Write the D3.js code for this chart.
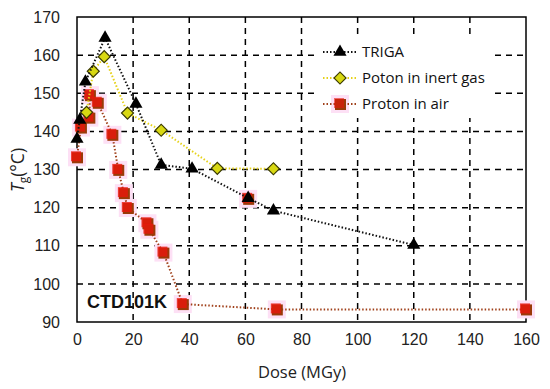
<!DOCTYPE html>
<html><head><meta charset="utf-8">
<script src="https://cdnjs.cloudflare.com/ajax/libs/d3/7.8.5/d3.min.js"></script>
<style>body{margin:0;background:#fff}svg{display:block}</style>
</head><body>
<script>
const xTicks = [0,20,40,60,80,100,120,140,160];
const yTicks = [90,100,110,120,130,140,150,160,170];
const trigaDose = [0,1,3,10,21,30,41,61,70,120];
const trigaTg   = [138,143,153,164.5,147.2,131.2,130.2,122.5,119.2,110.2];
const inertDose = [3.4,5.8,9.7,18,30,50,70];
const inertTg   = [145,155.8,159.6,144.8,140.3,130.3,130.2];
const airDose = [0,1.4,4.4,4.6,7.4,12.6,14.7,16.7,18.1,25.1,25.8,30.8,37.7,71.2,160];
const airTg   = [133.2,141,143.6,149.5,147.5,139.1,129.9,123.8,119.9,115.9,114.2,108.2,94.7,93.3,93.3];
const airExtraDose = [61];
const airExtraTg = [122.3];
const seriesNames = ["TRIGA","Poton in inert gas","Proton in air"];

const W=550,H=389;
const svg=d3.select("body").append("svg").attr("width",W).attr("height",H);
const x=d3.scaleLinear().domain([0,160]).range([77,526]);
const y=d3.scaleLinear().domain([90,170]).range([322,17]);
const font="Liberation Sans, Arial, sans-serif";

// grid
const g=svg.append("g");
g.selectAll(".vg").data(xTicks.filter(d=>d>0&&d<160)).enter().append("line")
 .attr("x1",d=>x(d)).attr("x2",d=>x(d)).attr("y1",y(170)).attr("y2",y(90))
 .attr("stroke","#000").attr("stroke-width",1.5).attr("stroke-dasharray","6,5");
g.selectAll(".hg").data(yTicks.filter(d=>d>90&&d<170)).enter().append("line")
 .attr("y1",d=>y(d)).attr("y2",d=>y(d)).attr("x1",x(0)).attr("x2",x(160))
 .attr("stroke","#000").attr("stroke-width",1.5).attr("stroke-dasharray","6,5");

// legend background
svg.append("rect").attr("x",317).attr("y",36).attr("width",178).attr("height",82).attr("fill","#fff");

// frame
svg.append("rect").attr("x",x(0)).attr("y",y(170)).attr("width",x(160)-x(0)).attr("height",y(90)-y(170))
 .attr("fill","none").attr("stroke","#000").attr("stroke-width",1.5);

// axes labels
const xAxis=d3.axisBottom(x).tickValues(xTicks).tickSize(0).tickPadding(12);
const xa=svg.append("g").attr("transform",`translate(0,${y(90)})`).call(xAxis);
xa.select(".domain").remove();
xa.selectAll("text").attr("font-size",16).attr("font-family",font).attr("fill","#222");
const yAxis=d3.axisLeft(y).tickValues(yTicks).tickSize(0).tickPadding(17);
const ya=svg.append("g").attr("transform",`translate(${x(0)},0)`).call(yAxis);
ya.select(".domain").remove();
ya.selectAll("text").attr("font-size",16).attr("font-family",font).attr("fill","#222");

svg.append("text").attr("x",302).attr("y",378).attr("text-anchor","middle")
 .attr("font-family","Open Sans, sans-serif").attr("font-size",16.5).attr("fill","#222").text("Dose (MGy)");
const yt=svg.append("text").attr("transform","translate(24,170) rotate(-90)").attr("text-anchor","middle")
 .attr("font-family","Open Sans, sans-serif").attr("font-size",17.5).attr("fill","#222");
yt.append("tspan").attr("font-style","italic").text("T");
yt.append("tspan").attr("font-size",12).attr("dy",4).text("g");
yt.append("tspan").attr("dy",-4).text("(°C)");

svg.append("text").attr("x",87).attr("y",308).attr("font-family",font).attr("font-weight","bold")
 .attr("font-size",18).attr("fill","#111").text("CTD101K");

const line=d3.line().x(d=>x(d[0])).y(d=>y(d[1]));
const tri=d3.symbol().type(d3.symbolTriangle).size(75);
const dia=d3.symbol().type(d3.symbolSquare).size(72);

const halo="#fde0f5";
// Proton in air
const air=airDose.map((d,i)=>[d,airTg[i]]);
const airAll=air.concat(airExtraDose.map((d,i)=>[d,airExtraTg[i]]));
const ga=svg.append("g");
airAll.forEach(p=>{
  ga.append("rect").attr("x",x(p[0])-9).attr("y",y(p[1])-9).attr("width",18).attr("height",18).attr("fill",halo);
});
ga.append("path").attr("d",line(air)).attr("fill","none").attr("stroke","#a0401a").attr("stroke-width",2).attr("stroke-dasharray","1.5,2");
airAll.forEach(p=>{
  const cx=x(p[0]),cy=y(p[1]);
  ga.append("rect").attr("x",cx-5).attr("y",cy-5).attr("width",11).attr("height",11).attr("fill","#9a3a08");
  ga.append("rect").attr("x",cx-6).attr("y",cy-6).attr("width",10).attr("height",10).attr("fill","#e8160c").attr("opacity",0.8);
});

// Inert gas
const inert=inertDose.map((d,i)=>[d,inertTg[i]]);
svg.append("path").attr("d",line(inert)).attr("fill","none").attr("stroke","#e6d21a").attr("stroke-width",2).attr("stroke-dasharray","1.5,2");
svg.selectAll(".dia").data(inert).enter().append("path").attr("d",dia)
 .attr("transform",d=>`translate(${x(d[0])},${y(d[1])}) rotate(45)`).attr("fill","#d8d812").attr("stroke","#3a3a00").attr("stroke-width",1.2);

// TRIGA
const triga=trigaDose.map((d,i)=>[d,trigaTg[i]]);
svg.append("path").attr("d",line(triga)).attr("fill","none").attr("stroke","#111").attr("stroke-width",2).attr("stroke-dasharray","1.5,2");
svg.selectAll(".tri").data(triga).enter().append("path").attr("d",tri)
 .attr("transform",d=>`translate(${x(d[0])},${y(d[1])})`).attr("fill","#000");

// legend
const ly=[52,78,104];
const lg=svg.append("g");
const lcol=["#111","#e6d21a","#a0401a"];
ly.forEach((yy,i)=>{
  if(i===2) lg.append("rect").attr("x",331).attr("y",yy-9).attr("width",18).attr("height",18).attr("fill",halo);
  lg.append("line").attr("x1",323).attr("x2",357).attr("y1",yy).attr("y2",yy).attr("stroke",lcol[i]).attr("stroke-width",2).attr("stroke-dasharray","1.5,2");
  if(i===0) lg.append("path").attr("d",tri).attr("transform",`translate(340,${yy})`).attr("fill","#000");
  if(i===1) lg.append("path").attr("d",dia).attr("transform",`translate(340,${yy}) rotate(45)`).attr("fill","#d8d812").attr("stroke","#3a3a00").attr("stroke-width",1.2);
  if(i===2){
    lg.append("rect").attr("x",335).attr("y",yy-5).attr("width",11).attr("height",11).attr("fill","#9a3a08");
    lg.append("rect").attr("x",334).attr("y",yy-6).attr("width",10).attr("height",10).attr("fill","#e8160c").attr("opacity",0.6);
  }
  lg.append("text").attr("x",362).attr("y",yy+5).attr("font-family","Open Sans, sans-serif").attr("font-size",15).attr("fill","#111").text(seriesNames[i]);
});
</script>
</body></html>
